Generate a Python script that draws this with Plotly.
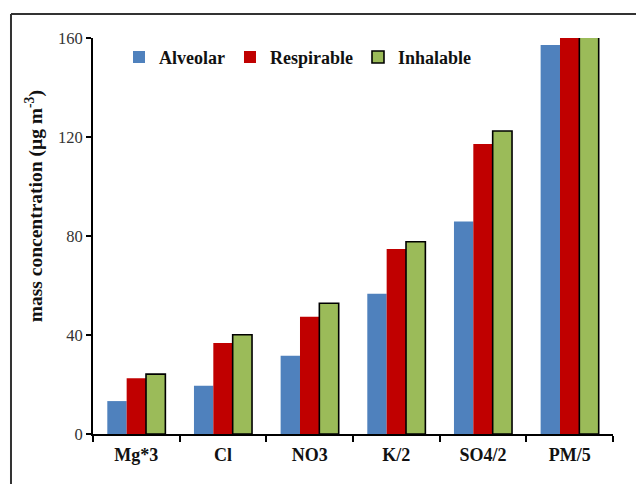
import plotly.graph_objects as go

categories = ["Mg*3", "Cl", "NO3", "K/2", "SO4/2", "PM/5"]
alveolar = [13.3, 19.5, 31.6, 56.7, 85.9, 157.2]
respirable = [22.5, 36.8, 47.4, 74.7, 117.2, 162.0]
inhalable = [24.2, 40.1, 52.8, 77.7, 122.4, 161.0]
y_ticks = [0, 40, 80, 120, 160]

serif = "Liberation Serif, Times New Roman, serif"

fig = go.Figure()
fig.add_trace(go.Bar(name="Alveolar", x=categories, y=alveolar,
                     marker=dict(color="#4F81BD", line=dict(width=0))))
fig.add_trace(go.Bar(name="Respirable", x=categories, y=respirable,
                     marker=dict(color="#C00000", line=dict(width=0))))
fig.add_trace(go.Bar(name="Inhalable", x=categories, y=inhalable,
                     marker=dict(color="#9BBB59", line=dict(color="#000000", width=1.6))))

fig.update_layout(
    width=636, height=484,
    margin=dict(l=93, r=23, t=38, b=50),
    paper_bgcolor="white", plot_bgcolor="white",
    barmode="group", bargap=0.33, bargroupgap=0,
    font=dict(family=serif, size=16, color="#1a1a1a"),
    showlegend=True,
    legend=dict(orientation="h", x=0.05, y=0.998, xanchor="left", yanchor="top",
                font=dict(family=serif, size=18, color="#111111", weight="bold"),
                bgcolor="rgba(0,0,0,0)", itemwidth=30, tracegroupgap=0),
    xaxis=dict(type="category", showline=True, linecolor="black", linewidth=2,
               ticks="outside", tickson="boundaries", ticklen=6, tickwidth=1.5,
               tickcolor="black", showgrid=False, ticklabelstandoff=3,
               tickfont=dict(family=serif, size=18, color="#111111", weight="bold")),
    yaxis=dict(range=[0, 160], tickvals=y_ticks, showline=True, linecolor="black",
               linewidth=2, ticks="outside", ticklen=5, tickwidth=1.5,
               tickcolor="black", showgrid=False, zeroline=False,
               tickfont=dict(family=serif, size=16.5, color="#333333")),
    annotations=[dict(text="mass concentration (µg m<sup>-3</sup>)",
                      xref="paper", yref="paper", x=-0.1135, y=0.575,
                      textangle=-90, showarrow=False, xanchor="center", yanchor="middle",
                      font=dict(family=serif, size=19.5, color="#111111", weight="bold"))],
    shapes=[
        dict(type="line", xref="paper", yref="paper", x0=-0.1577, x1=1.05,
             y0=1.0606, y1=1.0606, line=dict(color="#333333", width=2)),
        dict(type="line", xref="paper", yref="paper", x0=-0.1577, x1=-0.1577,
             y0=-0.13, y1=1.0606, line=dict(color="#333333", width=2)),
    ],
)

fig.write_html("out.html")
